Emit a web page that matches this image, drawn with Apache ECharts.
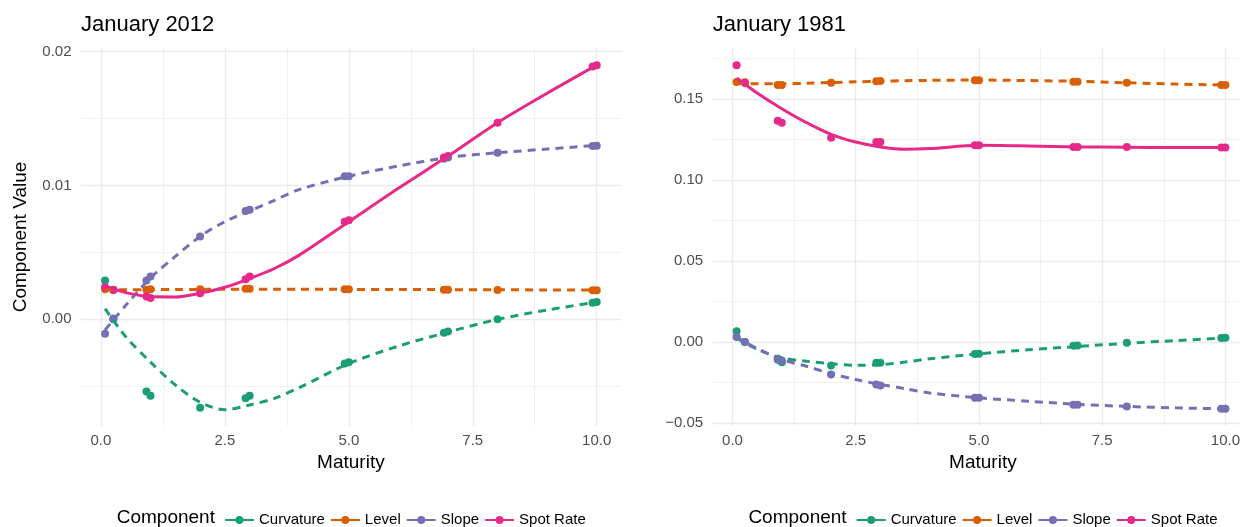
<!DOCTYPE html>
<html>
<head>
<meta charset="utf-8">
<title>Yield curve components</title>
<script src="https://cdn.jsdelivr.net/npm/echarts@6/dist/echarts.min.js"></script>
<style>
  html, body { margin: 0; padding: 0; background: #fff; }
  #chart { width: 1243px; height: 527px; }
</style>
</head>
<body>
<div id="chart"></div>
<script>
// maturities (years) of the observed points
const maturities = [0.083, 0.25, 0.917, 1, 2, 2.917, 3, 4.917, 5, 6.917, 7, 8, 9.917, 10]
const smoothMaturities = [0.083, 0.5, 1, 1.5, 2, 2.5, 3, 3.5, 4, 5, 6, 7, 8, 9, 10]

const components = ['Curvature', 'Level', 'Slope', 'Spot Rate']
const colors = ['#1b9e77', '#d95f02', '#7570b3', '#e7298a']

// January 2012 - points
const curvL = [0.0029, 0.0000, -0.0054, -0.0057, -0.0066, -0.0059, -0.0057, -0.0033, -0.0032, -0.0010, -0.0009, 0.0000, 0.00125, 0.0013]
const levelL = [0.00225, 0.00222, 0.00222, 0.00225, 0.00225, 0.00228, 0.00228, 0.00225, 0.00225, 0.00222, 0.00222, 0.0022, 0.00218, 0.00218]
const slopeL = [-0.00107, 0.00007, 0.0029, 0.0032, 0.0062, 0.0081, 0.0082, 0.0107, 0.0107, 0.0120, 0.0121, 0.01246, 0.01296, 0.01298]
const spotL = [0.0024, 0.0022, 0.0017, 0.0016, 0.00195, 0.0030, 0.0032, 0.0073, 0.0074, 0.0121, 0.0122, 0.0147, 0.0189, 0.0190]

// January 2012 - smoothed curves
const curvFitL = [0.0008, -0.0013, -0.0032, -0.0049, -0.0062, -0.00675, -0.0064, -0.0059, -0.0051, -0.0033, -0.0020, -0.00095, 0.0000, 0.0007, 0.0013]
const levelFitL = [0.00222, 0.00222, 0.00222, 0.00223, 0.00224, 0.00225, 0.00225, 0.00225, 0.00225, 0.00224, 0.00223, 0.00222, 0.00221, 0.0022, 0.00219]
const slopeFitL = [-0.0008, 0.00105, 0.0031, 0.0047, 0.0062, 0.0073, 0.0081, 0.0089, 0.0097, 0.0107, 0.01146, 0.0121, 0.01245, 0.01273, 0.0130]
const spotFitL = [0.0025, 0.0020, 0.0017, 0.00167, 0.00195, 0.0024, 0.00305, 0.0038, 0.0048, 0.0073, 0.0098, 0.0122, 0.0147, 0.0169, 0.0190]

// January 1981 - points
const curvR = [0.0066, 0.0000, -0.0110, -0.0125, -0.0145, -0.0129, -0.0128, -0.0074, -0.0072, -0.0023, -0.0021, -0.0005, 0.0025, 0.0026]
const levelR = [0.1606, 0.1604, 0.1587, 0.1588, 0.1601, 0.1610, 0.1612, 0.1617, 0.1617, 0.1607, 0.1607, 0.1601, 0.1587, 0.1587]
const slopeR = [0.0031, 0.0000, -0.0104, -0.0115, -0.0201, -0.0263, -0.0269, -0.0345, -0.0345, -0.0387, -0.0388, -0.0399, -0.0413, -0.0413]
const spotR = [0.1709, 0.1600, 0.1366, 0.1354, 0.1261, 0.1236, 0.1236, 0.1215, 0.1215, 0.1205, 0.1205, 0.1205, 0.1201, 0.1201]

// January 1981 - smoothed curves
const curvFitR = [0.0025, -0.0045, -0.0098, -0.0119, -0.0134, -0.0144, -0.0140, -0.0124, -0.0104, -0.0073, -0.0048, -0.0028, -0.0008, 0.0009, 0.0024]
const levelFitR = [0.1597, 0.1595, 0.1595, 0.1598, 0.1603, 0.1607, 0.1610, 0.1614, 0.1616, 0.1618, 0.1615, 0.1610, 0.1601, 0.1593, 0.1587]
const slopeFitR = [0.0031, -0.0041, -0.0108, -0.0150, -0.0195, -0.0232, -0.0262, -0.0288, -0.0315, -0.0345, -0.0366, -0.0385, -0.0398, -0.0407, -0.0413]
const spotFitR = [0.1631, 0.1538, 0.1441, 0.1355, 0.1283, 0.1235, 0.1205, 0.1191, 0.1195, 0.1215, 0.1211, 0.1205, 0.1203, 0.1201, 0.1201]

const font = "'Liberation Sans', Arial, sans-serif"
const pair = (xs, ys) => xs.map((x, i) => [x, ys[i]])

// lines first so the legend picks up the line icon
const panelSeries = (idx, pts, fits) => {
  const lines = components.map((name, k) => ({
    name,
    type: 'line',
    xAxisIndex: idx,
    yAxisIndex: idx,
    data: pair(smoothMaturities, fits[k]),
    smooth: 0.3,
    symbol: 'circle',
    showSymbol: false,
    silent: true,
    lineStyle: { color: colors[k], width: 3, type: k === 3 ? 'solid' : [8, 6] },
    itemStyle: { color: colors[k] },
    z: 3
  }))
  const dots = components.map((name, k) => ({
    name,
    type: 'scatter',
    xAxisIndex: idx,
    yAxisIndex: idx,
    data: pair(maturities, pts[k]),
    symbolSize: 8,
    itemStyle: { color: colors[k], opacity: 1 },
    z: 2
  }))
  return lines.concat(dots)
}

const gridLine = { show: true, showMinLine: false, showMaxLine: false, lineStyle: { color: '#ebebeb', width: 1.4 } }
const minorLine = { show: true, lineStyle: { color: '#ebebeb', width: 0.7 } }

// namePad nudges the axis title back to the centre of the full (uncropped) panel
const xAxisFor = (gridIndex, max, namePad) => ({
  type: 'value',
  gridIndex,
  min: -0.4125,
  max,
  minInterval: 2.5,
  maxInterval: 2.5,
  name: 'Maturity',
  nameLocation: 'middle',
  nameGap: 26,
  nameTextStyle: { fontSize: 19, color: '#000', fontFamily: font, padding: [0, 0, 0, namePad] },
  axisLine: { show: false },
  axisTick: { show: false },
  axisLabel: {
    fontSize: 15, color: '#4d4d4d', margin: 7, fontFamily: font,
    showMinLabel: false, showMaxLabel: false,
    formatter: v => (Math.abs(v / 2.5 - Math.round(v / 2.5)) < 1e-6 ? v.toFixed(1) : '')
  },
  splitLine: gridLine,
  minorTick: { show: false, splitNumber: 2 },
  minorSplitLine: minorLine
})

const yAxisFor = (gridIndex, min, max, step, name) => ({
  type: 'value',
  gridIndex,
  min,
  max,
  minInterval: step,
  maxInterval: step,
  name,
  nameLocation: 'middle',
  nameRotate: 90,
  nameGap: 50,
  nameTextStyle: { fontSize: 19, color: '#000', fontFamily: font },
  axisLine: { show: false },
  axisTick: { show: false },
  axisLabel: {
    fontSize: 15, color: '#4d4d4d', margin: 9, fontFamily: font,
    showMinLabel: false, showMaxLabel: false,
    formatter: v => {
      if (Math.abs(v / step - Math.round(v / step)) > 1e-6) return ''
      const s = Math.abs(v).toFixed(2)
      return v < -1e-9 ? '\u2212' + s : s
    }
  },
  splitLine: gridLine,
  minorTick: { show: false, splitNumber: 2 },
  minorSplitLine: minorLine
})

const legendFor = (left) => ({
  left,
  top: 512.5,
  padding: 0,
  orient: 'horizontal',
  itemWidth: 29,
  itemHeight: 10,
  itemGap: 5,
  data: components,
  selectedMode: false,
  lineStyle: { type: 'solid' },
  textStyle: { fontSize: 15, color: '#000', fontFamily: font }
})

const textAt = (x, y, text, size) => ({
  type: 'text',
  x,
  y,
  silent: true,
  style: { text, fontSize: size, fontFamily: font, fill: '#000', align: 'left', verticalAlign: 'middle' }
})

const chart = echarts.init(document.getElementById('chart'))

chart.setOption({
  animation: false,
  backgroundColor: '#fff',
  textStyle: { fontFamily: font },
  grid: [
    { left: 80.5, top: 48, width: 540.8, height: 378 },
    // right panel runs past the picture edge; only the visible part is drawn
    { left: 712.2, top: 48, right: 0, height: 378 }
  ],
  xAxis: [xAxisFor(0, 10.4958, 0), xAxisFor(1, 10.288, 14)],
  yAxis: [
    yAxisFor(0, -0.00797, 0.02028, 0.01, 'Component Value'),
    yAxisFor(1, -0.0519, 0.1816, 0.05, '')
  ],
  legend: [legendFor(224), legendFor(855.7)],
  graphic: [
    textAt(81, 24.5, 'January 2012', 22),
    textAt(712.7, 24.5, 'January 1981', 22),
    textAt(116.7, 518, 'Component', 19),
    textAt(748.4, 518, 'Component', 19)
  ],
  series: panelSeries(0, [curvL, levelL, slopeL, spotL], [curvFitL, levelFitL, slopeFitL, spotFitL])
    .concat(panelSeries(1, [curvR, levelR, slopeR, spotR], [curvFitR, levelFitR, slopeFitR, spotFitR]))
})
</script>
</body>
</html>
